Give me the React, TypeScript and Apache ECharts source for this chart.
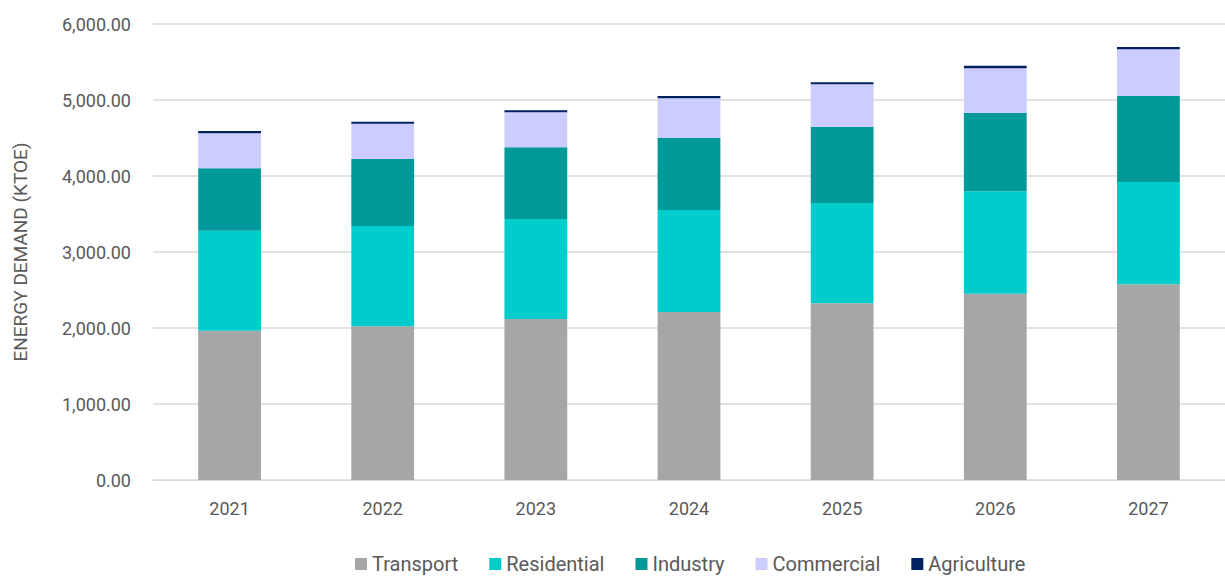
import React, { useEffect, useRef } from "react";
import * as echarts from "echarts";

const years = ["2021", "2022", "2023", "2024", "2025", "2026", "2027"];
const transport = [1964, 2022, 2118, 2211, 2325, 2451, 2575];
const residential = [1316, 1320, 1316, 1342, 1320, 1348, 1346];
const industry = [821, 882, 944, 947, 1004, 1034, 1132];
const commercial = [461, 464, 460, 522, 558, 584, 614];
const agriculture = [30, 26, 26, 31, 26, 34, 30];

const seriesDefs = [
  { name: "Transport", data: transport, color: "#A6A6A6" },
  { name: "Residential", data: residential, color: "#00CCCC" },
  { name: "Industry", data: industry, color: "#009999" },
  { name: "Commercial", data: commercial, color: "#CCCCFF" },
  { name: "Agriculture", data: agriculture, color: "#002060" },
];

const fmt = (v: number) =>
  v.toLocaleString("en-US", { minimumFractionDigits: 2, maximumFractionDigits: 2 });

export default function App() {
  const ref = useRef<HTMLDivElement>(null);
  useEffect(() => {
    document.body.style.margin = "0";
    if (!ref.current) return;
    const chart = echarts.init(ref.current, undefined, { renderer: "svg" });
    chart.setOption({
      animation: false,
      backgroundColor: "#ffffff",
      textStyle: { fontFamily: "Roboto" },
      grid: { left: 153, right: 0, top: 24, bottom: 96, containLabel: false },
      legend: {
        left: 350,
        top: 549,
        itemWidth: 12,
        itemHeight: 12,
        itemGap: 31,
        icon: "rect",
        textStyle: { fontSize: 20, color: "#595959", fontFamily: "Roboto" },
        data: seriesDefs.map((s) => s.name),
      },
      xAxis: {
        type: "category",
        data: years,
        axisLine: { lineStyle: { color: "#D9D9D9", width: 1 } },
        axisTick: { show: false },
        axisLabel: { color: "#595959", fontSize: 18, margin: 19 },
      },
      yAxis: {
        type: "value",
        min: 0,
        max: 6000,
        interval: 1000,
        name: "ENERGY DEMAND (KTOE)",
        nameLocation: "middle",
        nameGap: 123,
        nameTextStyle: { color: "#595959", fontSize: 19 },
        axisLine: { show: false },
        axisTick: { show: false },
        axisLabel: { color: "#595959", fontSize: 18, margin: 22, formatter: (v: number) => fmt(v) },
        splitLine: { lineStyle: { color: "#D9D9D9", width: 1.5 } },
      },
      series: seriesDefs.map((s) => ({
        name: s.name,
        type: "bar",
        stack: "total",
        barWidth: "41%",
        data: s.data,
        itemStyle: { color: s.color },
      })),
    });
    return () => chart.dispose();
  }, []);
  return <div ref={ref} style={{ width: 1225, height: 576 }} />;
}
